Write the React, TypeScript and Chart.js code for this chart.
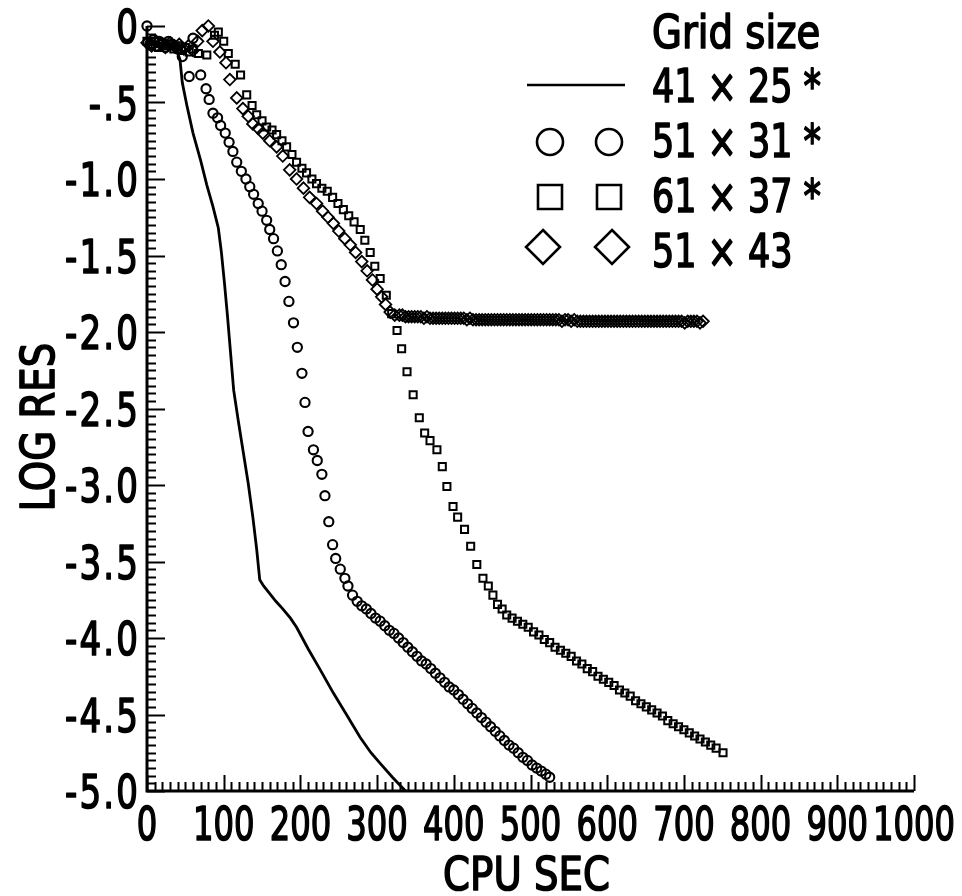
import { useEffect, useRef } from "react";
import { Chart, registerables } from "chart.js";

Chart.register(...registerables);

// ---------- data ----------
const xTickValues = [0, 100, 200, 300, 400, 500, 600, 700, 800, 900, 1000];
const xTickLabels = ["0", "100", "200", "300", "400", "500", "600", "700", "800", "900", "1000"];
const yTickValues = [0, -0.5, -1, -1.5, -2, -2.5, -3, -3.5, -4, -4.5, -5];
const yTickLabels = ["0", "-.5", "-1.0", "-1.5", "-2.0", "-2.5", "-3.0", "-3.5", "-4.0", "-4.5", "-5.0"];

const xTitle = "CPU SEC";
const yTitle = "LOG RES";
const legendTitle = "Grid size";
const seriesLabels = ["41 × 25 *", "51 × 31 *", "61 × 37 *", "51 × 43"];

const grid41x25X = [0, 10, 20, 30, 38, 43, 46, 52, 60, 70, 78, 86, 93, 97, 101, 105, 109, 113, 119, 125, 132, 138, 143, 147, 152, 160, 168, 177, 187, 195, 210, 225, 243, 260, 278, 292, 304, 320, 337];
const grid41x25Y = [-0.10, -0.11, -0.12, -0.12, -0.15, -0.22, -0.37, -0.52, -0.70, -0.88, -1.04, -1.18, -1.32, -1.48, -1.68, -1.90, -2.14, -2.38, -2.58, -2.77, -2.99, -3.21, -3.42, -3.62, -3.66, -3.71, -3.76, -3.81, -3.87, -3.93, -4.07, -4.20, -4.36, -4.50, -4.65, -4.75, -4.82, -4.91, -5.0];

const grid51x31X = [0, 4, 8, 12, 16, 20, 24, 28, 32, 36, 40, 46, 55, 60, 70, 77, 81, 86, 92, 96, 102, 107, 112, 117, 123, 129, 134, 139, 145, 150, 156, 160, 165, 170, 175, 180, 185, 191, 196, 202, 206, 210, 217, 222, 228, 232, 237, 242, 246, 252, 258, 262, 268,
  274, 280, 286, 292, 298, 304, 310, 316, 322, 328, 334, 340, 346, 352, 358, 364, 370, 376, 382, 388, 394, 400, 406, 412, 418, 424, 430, 436, 442, 448, 454, 460, 466, 472, 478, 484, 490, 496, 502, 508, 514, 520, 525];
const grid51x31Y = [0, -0.12, -0.09, -0.13, -0.10, -0.12, -0.14, -0.10, -0.12, -0.13, -0.15, -0.20, -0.33, -0.08, -0.32, -0.41, -0.48, -0.57, -0.60, -0.65, -0.70, -0.76, -0.82, -0.89, -0.95, -1.00, -1.05, -1.10, -1.16, -1.21, -1.27, -1.33, -1.39, -1.47, -1.56, -1.67, -1.80, -1.94, -2.10, -2.27, -2.46, -2.65, -2.77, -2.84, -2.93, -3.07, -3.24, -3.39, -3.48, -3.55, -3.61, -3.66, -3.72,
  -3.76, -3.79, -3.81, -3.84, -3.87, -3.89, -3.92, -3.95, -3.97, -4.00, -4.03, -4.06, -4.09, -4.12, -4.15, -4.17, -4.20, -4.23, -4.26, -4.29, -4.32, -4.34, -4.37, -4.40, -4.43, -4.46, -4.49, -4.52, -4.55, -4.58, -4.61, -4.64, -4.67, -4.70, -4.72, -4.75, -4.78, -4.80, -4.83, -4.85, -4.87, -4.89, -4.91];

const grid61x37X = [0, 5, 10, 15, 20, 25, 30, 35, 40, 45, 50, 55, 60, 67, 78, 88, 93, 100, 106, 115, 122, 130, 137, 143, 150, 156, 163, 169, 176, 182, 189, 195, 202, 208, 215, 221, 228, 235, 242, 249, 256, 263, 270, 278, 284, 291, 297, 304, 312, 319, 326, 332, 339, 347, 355, 362, 369, 378, 385, 391, 399, 405, 414, 422, 430, 438, 445, 451, 457, 463,
  469, 476, 483, 490, 497, 504, 511, 518, 525, 532, 539, 546, 553, 560, 567, 574, 581, 588, 595, 602, 609, 616, 623, 630, 637, 644, 651, 658, 665, 672, 679, 686, 693, 700, 707, 714, 721, 728, 735, 742, 751];
const grid61x37Y = [-0.10, -0.12, -0.10, -0.14, -0.11, -0.13, -0.12, -0.15, -0.13, -0.16, -0.14, -0.17, -0.15, -0.18, -0.19, -0.06, -0.04, -0.10, -0.18, -0.25, -0.32, -0.45, -0.52, -0.58, -0.62, -0.66, -0.68, -0.71, -0.75, -0.79, -0.84, -0.89, -0.93, -0.96, -1.00, -1.03, -1.06, -1.08, -1.12, -1.16, -1.20, -1.24, -1.28, -1.33, -1.40, -1.48, -1.57, -1.65, -1.76, -1.88, -1.99, -2.11, -2.26, -2.41, -2.56, -2.66, -2.71, -2.77, -2.88, -3.01, -3.14, -3.21, -3.29, -3.40, -3.52, -3.61, -3.66, -3.72, -3.78, -3.81,
  -3.85, -3.87, -3.89, -3.91, -3.93, -3.96, -3.98, -4.01, -4.03, -4.06, -4.08, -4.10, -4.12, -4.15, -4.17, -4.20, -4.22, -4.25, -4.27, -4.29, -4.31, -4.34, -4.36, -4.38, -4.41, -4.43, -4.45, -4.47, -4.49, -4.51, -4.54, -4.56, -4.58, -4.60, -4.62, -4.64, -4.66, -4.68, -4.70, -4.72, -4.75];

const grid51x43X = [0, 6, 12, 18, 24, 30, 36, 42, 48, 54, 60, 66, 72, 80, 86, 95, 103, 108, 117, 125, 132, 138, 145, 151, 160, 169, 177, 186, 195, 204, 212, 221, 229, 236, 243, 250, 258, 265, 272, 280, 287, 294, 300, 306, 311, 317, 323,
  329, 333, 337, 341, 345, 349, 353, 357, 361, 365, 369, 373, 377, 381, 385, 389, 393, 397, 401, 405, 409, 413, 417, 421, 425, 429, 433, 437, 441, 445, 449, 453, 457, 461, 465, 469, 473, 477, 481, 485, 489, 493, 497, 501, 505, 509, 513, 517, 521, 525,
  529, 533, 537, 541, 545, 549, 553, 557, 561, 565, 569, 573, 577, 581, 585, 589, 593, 597, 601, 605, 609, 613, 617, 621, 625, 629, 633, 637, 641, 645, 649, 653, 657, 661, 665, 669, 673, 677, 681, 685, 689, 693, 697, 701, 705, 709, 713, 717, 721, 725];
const grid51x43Y = [-0.11, -0.13, -0.10, -0.12, -0.14, -0.11, -0.13, -0.12, -0.15, -0.13, -0.16, -0.10, -0.03, 0.0, -0.10, -0.17, -0.24, -0.35, -0.47, -0.54, -0.59, -0.64, -0.67, -0.70, -0.75, -0.79, -0.85, -0.94, -1.00, -1.06, -1.12, -1.16, -1.21, -1.25, -1.29, -1.34, -1.39, -1.43, -1.48, -1.54, -1.60, -1.66, -1.72, -1.77, -1.82, -1.87, -1.89,
  -1.89, -1.89, -1.90, -1.90, -1.90, -1.90, -1.90, -1.90, -1.91, -1.90, -1.91, -1.91, -1.91, -1.91, -1.91, -1.91, -1.91, -1.91, -1.91, -1.91,
  -1.91, -1.91, -1.92, -1.91, -1.92, -1.92, -1.92, -1.92, -1.92, -1.92, -1.92, -1.92, -1.92, -1.92, -1.92, -1.92, -1.92, -1.92, -1.92, -1.92,
  -1.92, -1.92, -1.92, -1.92, -1.92, -1.92, -1.92, -1.92, -1.92, -1.92, -1.92, -1.92, -1.92, -1.93, -1.92, -1.92, -1.93, -1.92, -1.93, -1.93,
  -1.93, -1.93, -1.93, -1.93, -1.93, -1.93, -1.93, -1.93, -1.93, -1.93, -1.93, -1.93, -1.93, -1.93, -1.93, -1.93, -1.93, -1.93, -1.93, -1.93,
  -1.93, -1.93, -1.93, -1.93, -1.93, -1.93, -1.93, -1.93, -1.93, -1.93, -1.93, -1.93, -1.93, -1.94, -1.93, -1.93, -1.93, -1.93, -1.94, -1.93];

// ---------- helpers ----------
const FONT = '"DejaVu Sans", "Liberation Sans", Arial, sans-serif';

function toPoints(xs: number[], ys: number[]) {
  return xs.map((x, i) => ({ x, y: ys[i] }));
}

function drawText(ctx: CanvasRenderingContext2D, text: string, x: number, y: number, align: "left" | "center" | "right", sx: number, size = 46, spacing = 0) {
  ctx.save();
  ctx.font = `${size}px ${FONT}`;
  ctx.textAlign = "left";
  ctx.textBaseline = "alphabetic";
  (ctx as any).letterSpacing = `${spacing}px`;
  const w = (ctx.measureText(text).width - spacing) * sx;
  const left = align === "center" ? x - w / 2 : align === "right" ? x - w : x;
  ctx.translate(left, y);
  ctx.scale(sx, 1);
  ctx.fillStyle = "#000";
  ctx.strokeStyle = "#000";
  ctx.lineWidth = 1.7;
  ctx.lineJoin = "round";
  ctx.fillText(text, 0, 0);
  ctx.strokeText(text, 0, 0);
  ctx.restore();
}

const decorPlugin = {
  id: "paperDecor",
  afterDraw(chart: any) {
    const { ctx, chartArea: a, scales } = chart;
    const xs = scales.x;
    const ys = scales.y;
    ctx.save();
    ctx.strokeStyle = "#000";
    ctx.fillStyle = "#000";
    ctx.lineCap = "butt";

    // axis lines
    ctx.lineWidth = 3;
    ctx.beginPath();
    ctx.moveTo(a.left, a.top);
    ctx.lineTo(a.left, a.bottom);
    ctx.lineTo(a.right, a.bottom);
    ctx.stroke();

    // y ticks (inward), minor every 0.05, major every 0.5
    ctx.lineWidth = 2;
    for (let i = 0; i <= 100; i++) {
      const py = Math.round(ys.getPixelForValue(-i * 0.05)) + 0.5;
      const len = i % 10 === 0 ? 18 : 9;
      ctx.beginPath();
      ctx.moveTo(a.left, py);
      ctx.lineTo(a.left + len, py);
      ctx.stroke();
    }
    // x ticks (inward), minor every 10, major every 100
    for (let i = 0; i <= 100; i++) {
      const px = Math.round(xs.getPixelForValue(i * 10)) + 0.5;
      const len = i % 10 === 0 ? 16 : 9;
      ctx.beginPath();
      ctx.moveTo(px, a.bottom);
      ctx.lineTo(px, a.bottom - len);
      ctx.stroke();
    }

    // tick labels
    xTickValues.forEach((v, i) => {
      drawText(ctx, xTickLabels[i], xs.getPixelForValue(v), a.bottom + 49, "center", 0.7);
    });
    yTickValues.forEach((v, i) => {
      drawText(ctx, yTickLabels[i], a.left - 9, ys.getPixelForValue(v) + 17, "right", 0.74, 46, 3);
    });

    // axis titles
    drawText(ctx, xTitle, (a.left + a.right) / 2 - 4, a.bottom + 99, "center", 0.84);
    ctx.save();
    ctx.translate(37, 427);
    ctx.rotate(-Math.PI / 2);
    drawText(ctx, yTitle, 0, 17, "center", 0.84);
    ctx.restore();

    // legend
    const textX = 652;
    drawText(ctx, legendTitle, textX, 48, "left", 0.84);
    const rows = [102, 157, 212, 267];
    const sym = [85, 142, 197, 247];
    chart.data.datasets.forEach((ds: any, i: number) => {
      drawText(ctx, ds.label, textX, rows[i], "left", 0.76);
      ctx.lineWidth = 2.6;
      ctx.strokeStyle = "#000";
      if (i === 0) {
        ctx.beginPath();
        ctx.moveTo(527, sym[i]);
        ctx.lineTo(625, sym[i]);
        ctx.stroke();
      } else {
        const cxs = i === 3 ? [543, 612] : [550, 609];
        cxs.forEach((cx) => {
          const cy = sym[i];
          ctx.beginPath();
          if (ds.pointStyle === "circle") {
            ctx.arc(cx, cy, 13, 0, Math.PI * 2);
          } else if (ds.pointStyle === "rect") {
            ctx.rect(cx - 12, cy - 12, 24, 24);
          } else {
            ctx.moveTo(cx, cy - 17);
            ctx.lineTo(cx + 17, cy);
            ctx.lineTo(cx, cy + 17);
            ctx.lineTo(cx - 17, cy);
            ctx.closePath();
          }
          ctx.stroke();
        });
      }
    });
    ctx.restore();
  },
};

export default function App() {
  const canvasRef = useRef<HTMLCanvasElement | null>(null);

  useEffect(() => {
    const canvas = canvasRef.current;
    if (!canvas) return;
    const chart = new Chart(canvas, {
      type: "scatter",
      data: {
        datasets: [
          {
            label: seriesLabels[0],
            data: toPoints(grid41x25X, grid41x25Y),
            showLine: true,
            borderColor: "#000",
            borderWidth: 2.8,
            pointRadius: 0,
            tension: 0,
            clip: false,
          } as any,
          {
            label: seriesLabels[1],
            data: toPoints(grid51x31X, grid51x31Y),
            showLine: false,
            pointStyle: "circle",
            pointRadius: 4.6,
            borderColor: "#000",
            backgroundColor: "rgba(0,0,0,0)",
            pointBorderWidth: 2.1,
            clip: false,
          },
          {
            label: seriesLabels[2],
            data: toPoints(grid61x37X, grid61x37Y),
            showLine: false,
            pointStyle: "rect",
            pointRadius: 5,
            borderColor: "#000",
            backgroundColor: "rgba(0,0,0,0)",
            pointBorderWidth: 2,
            clip: false,
          },
          {
            label: seriesLabels[3],
            data: toPoints(grid51x43X, grid51x43Y),
            showLine: false,
            pointStyle: "rectRot",
            pointRadius: 5.8,
            borderColor: "#000",
            backgroundColor: "rgba(0,0,0,0)",
            pointBorderWidth: 1.8,
            clip: false,
          },
        ],
      },
      options: {
        animation: false,
        responsive: false,
        devicePixelRatio: 1,
        layout: { padding: { left: 147, right: 48, top: 26, bottom: 105 } },
        scales: {
          x: { type: "linear", min: 0, max: 1000, display: false },
          y: { type: "linear", min: -5, max: 0, display: false },
        },
        plugins: {
          legend: { display: false },
          tooltip: { enabled: false },
        },
      },
      plugins: [decorPlugin],
    });
    return () => chart.destroy();
  }, []);

  return (
    <div style={{ position: "fixed", left: 0, top: 0, width: 962, height: 896, background: "#fff" }}>
      <canvas ref={canvasRef} width={962} height={896} style={{ display: "block", width: 962, height: 896 }} />
    </div>
  );
}
